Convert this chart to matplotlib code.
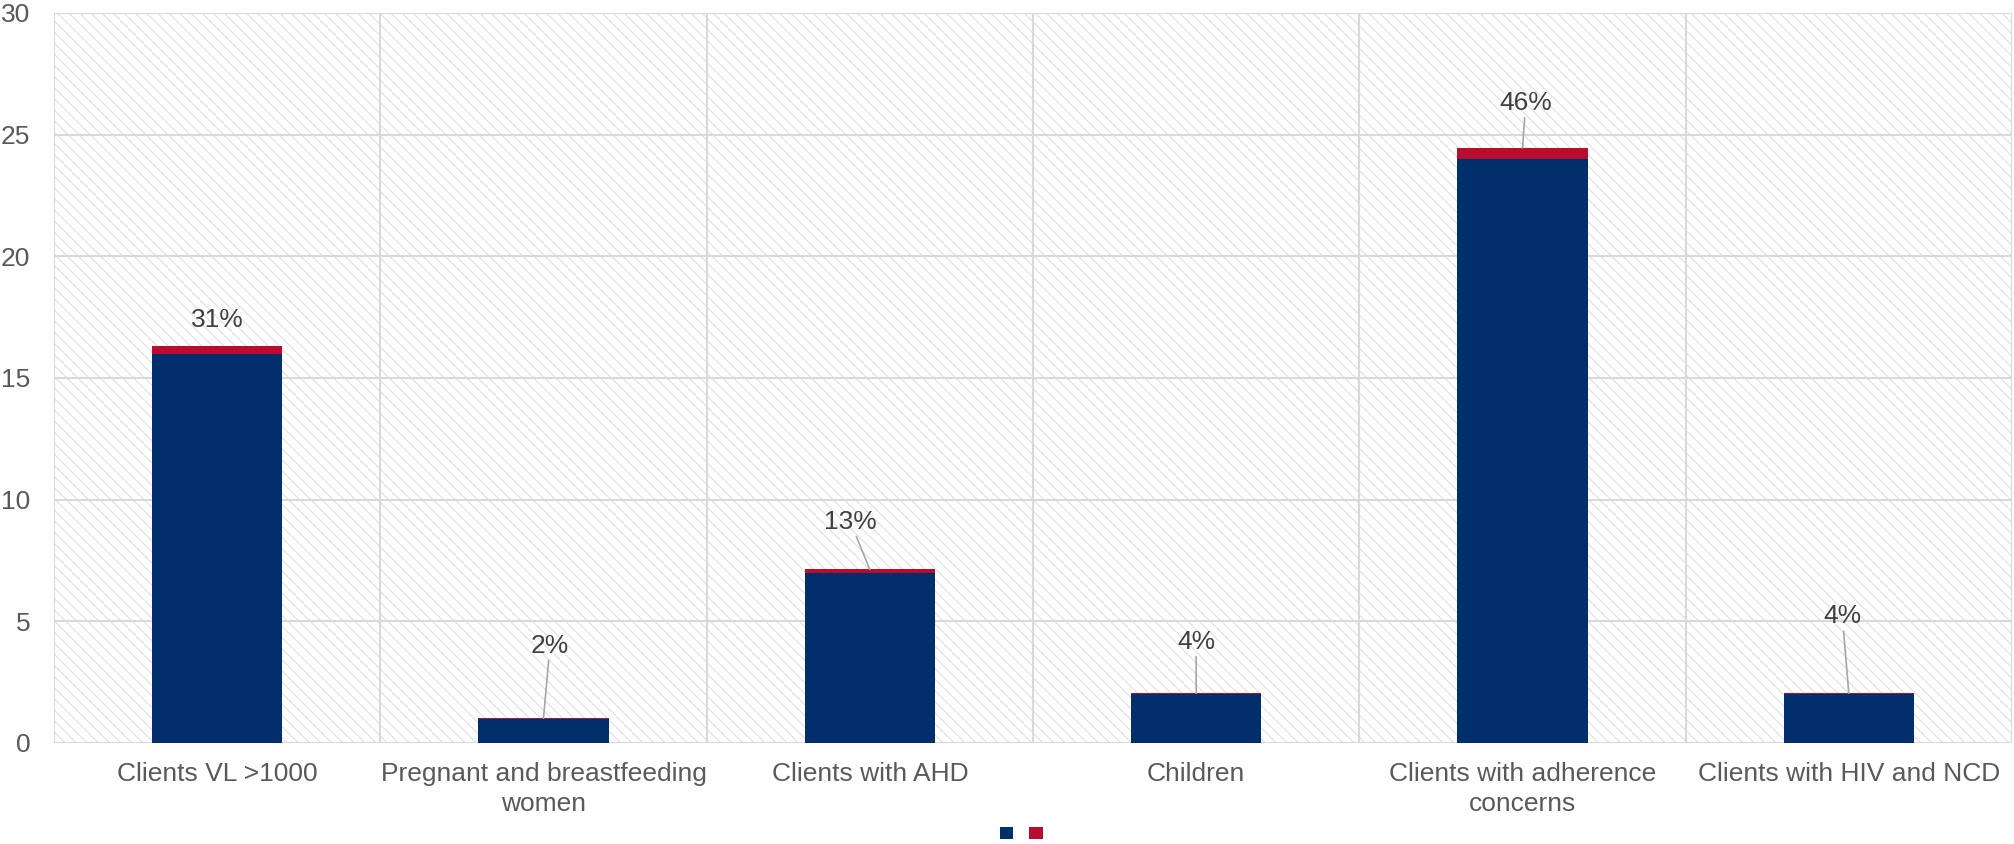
import numpy as np
import matplotlib.pyplot as plt
from matplotlib.patches import Rectangle, Patch

plt.rcParams['font.family'] = ['Liberation Sans', 'DejaVu Sans']
plt.rcParams['hatch.linewidth'] = 0.8

categories = ['Clients VL >1000', 'Pregnant and breastfeeding\nwomen', 'Clients with AHD',
              'Children', 'Clients with adherence\nconcerns', 'Clients with HIV and NCD']
counts = [16, 1, 7, 2, 24, 2]
share_pct = [31, 2, 13, 4, 46, 4]
# where the data labels sit (data coords), and whether Excel drew a leader line
label_y = [17.4, 4.0, 9.1, 4.15, 26.3, 5.2]
label_dx = [0.0, 0.02, -0.06, 0.0, 0.01, -0.02]
leader = [False, True, True, True, True, True]

navy = '#002F6C'
red = '#BA0C2F'
txt = '#595959'
grid = '#d9d9d9'
fs = 19

fig = plt.figure(figsize=(20.14, 8.44), dpi=100)
ax = fig.add_axes([0.0268, 0.1197, 0.9722, 0.8649])

x = np.arange(len(categories))
share = np.array(share_pct) / 100.0

# hatched plot background
ax.add_patch(Rectangle((0, 0), 1, 1, transform=ax.transAxes, facecolor='white',
                       edgecolor='#e0e0e0', hatch='\\\\\\', linewidth=0, zorder=0))

ax.bar(x, counts, width=0.4, color=navy, zorder=3)
ax.bar(x, share, width=0.4, bottom=counts, color=red, zorder=3)

for i in range(len(categories)):
    top = counts[i] + share[i]
    if leader[i]:
        ax.annotate(f'{share_pct[i]}%', xy=(x[i], top), xytext=(x[i] + label_dx[i], label_y[i]),
                    ha='center', va='center', fontsize=fs, color='#404040',
                    arrowprops=dict(arrowstyle='-', color='#a6a6a6', lw=1.2, shrinkA=0, shrinkB=0),
                    zorder=4)
    else:
        ax.text(x[i] + label_dx[i], label_y[i], f'{share_pct[i]}%', ha='center', va='center',
                fontsize=fs, color='#404040', zorder=4)

ax.set_xlim(-0.5, len(categories) - 0.5)
ax.set_ylim(0, 30)
ax.set_yticks(np.arange(0, 31, 5))
ax.set_xticks(x)
ax.set_xticklabels(categories, fontsize=fs, color=txt, linespacing=1.3)
ax.tick_params(axis='y', labelsize=fs, labelcolor=txt, length=0, pad=17)
ax.tick_params(axis='x', length=0, pad=14)

for yv in np.arange(5, 31, 5):
    ax.axhline(yv, color=grid, lw=1.5, zorder=1)
for xv in np.arange(-0.5, len(categories), 1.0):
    ax.axvline(xv, color=grid, lw=1.5, zorder=1)

for s in ax.spines.values():
    s.set_visible(False)
ax.axhline(0, color=grid, lw=1.5, zorder=2)

handles = [Patch(facecolor=navy), Patch(facecolor=red)]
fig.legend(handles, ['', ''], ncol=2, loc='center', bbox_to_anchor=(0.507, 0.012),
           frameon=False, handlelength=1.0, handleheight=1.0, handletextpad=0,
           columnspacing=1.1, borderpad=0)

fig.savefig('out.png', dpi=100)
